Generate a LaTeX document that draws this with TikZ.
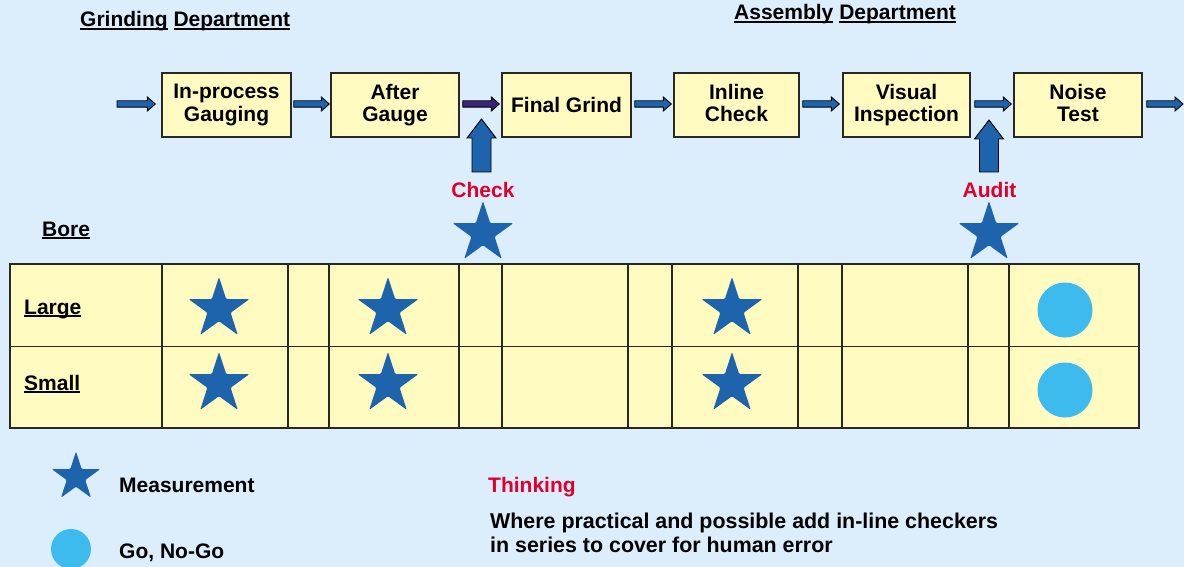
\documentclass[tikz,border=0pt]{standalone}
\usepackage{fontspec}
\setmainfont{Liberation Sans}
\usetikzlibrary{shapes.geometric,calc}
\definecolor{bgblue}{RGB}{220,238,252}
\definecolor{boxyel}{RGB}{255,250,192}
\definecolor{starblue}{RGB}{30,100,172}
\definecolor{gonogo}{RGB}{62,187,238}
\definecolor{redtxt}{RGB}{225,0,45}
\definecolor{arrpurple}{RGB}{60,35,120}
\definecolor{edgegray}{RGB}{40,40,40}
\newcommand\ulw[1]{{\setbox0\hbox{#1}\rlap{\rule[-2.6pt]{\wd0}{1.6pt}}\box0}}
\newcommand\hblk[3][starblue]{\draw[blk,fill=#1] let \p1=(#2), \p2=(#3) in
  (\x1,\y1+3.2pt) -- (\x2-8pt,\y1+3.2pt) -- (\x2-8pt,\y1+7pt) -- (\x2,\y1) --
  (\x2-8pt,\y1-7pt) -- (\x2-8pt,\y1-3.2pt) -- (\x1,\y1-3.2pt) -- cycle;}
\newcommand\vblk[2]{\draw[blk,fill=starblue] let \p1=(#1), \p2=(#2) in
  (\x1-9.5pt,\y1) -- (\x1-9.5pt,\y2-19pt) -- (\x1-14.5pt,\y2-19pt) -- (\x1,\y2) --
  (\x1+14.5pt,\y2-19pt) -- (\x1+9.5pt,\y2-19pt) -- (\x1+9.5pt,\y1) -- cycle;}
\begin{document}
\begin{tikzpicture}[x=1pt,y=-1pt,
  txt/.style={font=\bfseries\fontsize{21}{22.7}\selectfont,inner sep=0pt,anchor=base west},
  redlbl/.style={txt,text=redtxt,anchor=base},
  procbox/.style={draw=edgegray,line width=1.4pt,fill=boxyel,minimum height=64pt,
    align=center,inner sep=0pt,font=\bfseries\fontsize{21}{22.7}\selectfont},
  blk/.style={draw=black,line width=0.9pt},
  bigstar/.style={star,star points=5,star point ratio=2.618,fill=starblue,draw=none,
    inner sep=0pt,minimum size=64pt,rounded corners=1.2pt},
  gocircle/.style={circle,fill=gonogo,draw=none,inner sep=0pt,minimum size=55pt},
  grid/.style={draw=edgegray,line width=1.4pt}]
\fill[bgblue] (0,0) rectangle (1184,567);
\useasboundingbox (0,0) rectangle (1184,567);

% headers
\node[txt] (hgrind) at (80,27) {\ulw{Grinding} \ulw{Department}};
\node[txt] (hassy) at (734,20) {\ulw{Assembly} \ulw{Department}};

% process boxes
\node[procbox,minimum width=129pt] (b1) at (226.5,105) {In-process\\Gauging};
\node[procbox,minimum width=128pt] (b2) at (395,105) {After\\Gauge};
\node[procbox,minimum width=129pt] (b3) at (566.5,105) {Final Grind};
\node[procbox,minimum width=125pt] (b4) at (736.5,105) {Inline\\Check\vphantom{g}};
\node[procbox,minimum width=127pt] (b5) at (906.5,105) {Visual\\Inspection};
\node[procbox,minimum width=128pt] (b6) at (1078,105) {Noise\\Test\vphantom{g}};
\coordinate (in) at (117,104);
\coordinate (out) at (1183,104);

% horizontal block arrows
\hblk{in}{$(b1.west)+(-6,-1)$}
\hblk{$(b1.east)+(2,-1)$}{$(b2.west)+(-1,-1)$}
\hblk[arrpurple]{$(b2.east)+(3,-1)$}{$(b3.west)+(-2,-1)$}
\hblk{$(b3.east)+(3,-1)$}{$(b4.west)+(-2,-1)$}
\hblk{$(b4.east)+(3,-1)$}{$(b5.west)+(-3,-1)$}
\hblk{$(b5.east)+(4,-1)$}{$(b6.west)+(-2,-1)$}
\hblk{$(b6.east)+(4,-1)$}{out}

% check / audit
\coordinate (chkbot) at (481.5,172);
\coordinate (chktip) at (481.5,119);
\coordinate (audbot) at (989,172);
\coordinate (audtip) at (989,120);
\vblk{chkbot}{chktip}
\vblk{audbot}{audtip}
\node[redlbl] (lcheck) at (483,197) {Check};
\node[redlbl] (laudit) at (989.5,197) {Audit};
\node[bigstar] (scheck) at (483,233) {};
\node[bigstar] (saudit) at (989,233) {};

% bore table
\node[txt] (lbore) at (42,236) {\ulw{Bore}};
\filldraw[grid,fill=boxyel] (10,264) rectangle (1139,428);
\draw[grid] (10,346.5) -- (1139,346.5);
\foreach \xx in {162,288,329,459,502,628,672,798,842,968,1009}
  \draw[grid] (\xx,264) -- (\xx,428);
\node[txt] (llarge) at (24,314) {\ulw{Large}};
\node[txt] (lsmall) at (24,390) {\ulw{Small}};
\node[bigstar] (s11) at (219,309) {};
\node[bigstar] (s12) at (219,384) {};
\node[bigstar] (s21) at (388,309) {};
\node[bigstar] (s22) at (388,384) {};
\node[bigstar] (s31) at (732,309) {};
\node[bigstar] (s32) at (732,384) {};
\node[gocircle] (c1) at (1065,310) {};
\node[gocircle] (c2) at (1065,390) {};

% legend
\node[bigstar,minimum size=51pt] (lstar) at (76,477) {};
\node[txt] (lmeas) at (119,492) {Measurement};
\node[gocircle,minimum size=40pt] (lcirc) at (71,549) {};
\node[txt] (lgo) at (119,558) {Go, No-Go};

% thinking
\node[txt,text=redtxt] (lthink) at (488,492) {Thinking};
\node[txt,font=\bfseries\fontsize{21.4}{23}\selectfont] (lwhere1) at (490,528) {Where practical and possible add in-line checkers};
\node[txt,font=\bfseries\fontsize{21.4}{23}\selectfont] (lwhere2) at (490,552) {in series to cover for human error};
\end{tikzpicture}
\end{document}
